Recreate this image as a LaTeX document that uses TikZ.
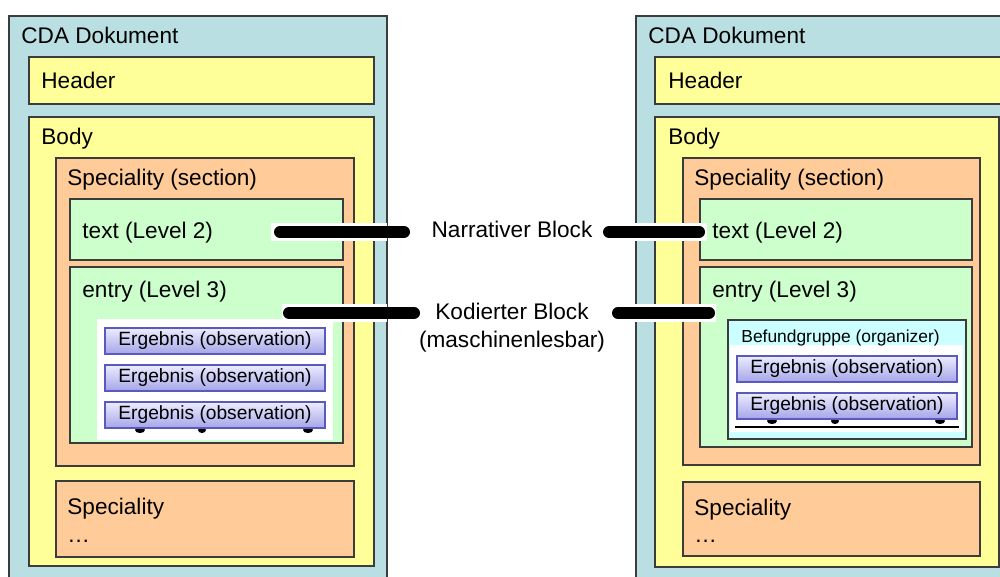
\documentclass[tikz,border=0pt]{standalone}
\usepackage{fontspec}
\setmainfont{Liberation Sans}
\definecolor{docblue}{RGB}{185,223,227}
\definecolor{hdryellow}{RGB}{255,255,153}
\definecolor{secorange}{RGB}{255,204,153}
\definecolor{entgreen}{RGB}{204,255,204}
\definecolor{orgcyan}{RGB}{204,255,255}
\definecolor{obstop}{RGB}{236,236,255}
\definecolor{obsbot}{RGB}{165,165,232}
\definecolor{obsline}{RGB}{90,90,190}
\definecolor{edge}{RGB}{60,60,60}
\begin{document}
\begin{tikzpicture}[x=0.5pt,y=-0.5pt,
  box/.style={draw=edge, line width=0.6pt},
  lbl/.style={anchor=base west, inner sep=0pt, font=\fontsize{11.3pt}{13pt}\selectfont},
  midlbl/.style={anchor=base, inner sep=0pt, font=\fontsize{11.3pt}{13pt}\selectfont},
  obs/.style={draw=obsline, line width=0.6pt, top color=obstop, bottom color=obsbot,
    minimum width=110pt, minimum height=13pt, inner sep=0pt,
    font=\fontsize{9.6pt}{11pt}\selectfont},
  blob/.style={fill=black},
  gap/.style={fill=white},
  marker/.style={line width=6pt, line cap=round, black}]
\useasboundingbox (0,0) rectangle (1000,577);
\clip (0,0) rectangle (1000,577);

% ---------- left document ----------
\fill[white] (0,0) rectangle (1000,577);
\filldraw[box, fill=docblue] (9,16) rectangle (387,600);
\filldraw[box, fill=hdryellow] (29,57) rectangle (374,104);
\filldraw[box, fill=hdryellow] (29,117) rectangle (374,566);
\filldraw[box, fill=secorange] (56,158) rectangle (354,466);
\filldraw[box, fill=entgreen] (70,199) rectangle (343,260);
\filldraw[box, fill=entgreen] (70,267) rectangle (343,443);
\fill[white] (97,319) rectangle (333,440);
\fill[blob] (140,430) ellipse (5 and 3);
\fill[blob] (202,430) ellipse (4 and 3);
\fill[blob] (308,430) ellipse (5 and 3);
\node[obs] (lo1) at (215,341) {Ergebnis (observation)};
\node[obs] (lo2) at (215,378) {Ergebnis (observation)};
\node[obs] (lo3) at (215,415) {Ergebnis (observation)};
\filldraw[box, fill=secorange] (56,481) rectangle (354,557);

\node[lbl] (ldoc) at (21,44) {CDA Dokument};
\node[lbl] (lhdr) at (41,89) {Header};
\node[lbl] (lbody) at (41,145) {Body};
\node[lbl] (lsec) at (67,186) {Speciality (section)};
\node[lbl] (ltext) at (82,238) {text (Level 2)};
\node[lbl] (lentry) at (82,297) {entry (Level 3)};
\node[lbl] (lspec) at (67,514) {Speciality};
\node[lbl] (ldots) at (67,542) {\dots};

% ---------- right document ----------
\filldraw[box, fill=docblue] (636,16) rectangle (1010,600);
\filldraw[box, fill=hdryellow] (655,57) rectangle (1010,104);
\filldraw[box, fill=hdryellow] (655,117) rectangle (999,567);
\filldraw[box, fill=secorange] (683,158) rectangle (980,465);
\filldraw[box, fill=entgreen] (700,199) rectangle (972,260);
\filldraw[box, fill=entgreen] (700,267) rectangle (972,447);
\filldraw[box, fill=orgcyan] (728,320) rectangle (966,439);
\fill[white] (730,345) rectangle (963,432);
\fill[blob] (772,421) ellipse (5 and 3);
\fill[blob] (835,421) ellipse (4 and 3);
\fill[blob] (940,421) ellipse (5 and 3);
\node[obs] (ro1) at (847,369) {Ergebnis (observation)};
\node[obs] (ro2) at (847,406) {Ergebnis (observation)};
\draw[line width=0.6pt] (735,427) -- (959,427);
\filldraw[box, fill=secorange] (683,482) rectangle (980,556);

\node[lbl] (rdoc) at (648,44) {CDA Dokument};
\node[lbl] (rhdr) at (668,89) {Header};
\node[lbl] (rbody) at (668,145) {Body};
\node[lbl] (rsec) at (694,186) {Speciality (section)};
\node[lbl] (rtext) at (712,238) {text (Level 2)};
\node[lbl] (rentry) at (712,297) {entry (Level 3)};
\node[lbl, font=\fontsize{8.7pt}{10pt}\selectfont] (rorg) at (741,342) {Befundgruppe (organizer)};
\node[lbl] (rspec) at (694,515) {Speciality};
\node[lbl] (rdots) at (694,542) {\dots};

% ---------- block labels and marker strokes ----------
\node[midlbl] (narr) at (512,237) {Narrativer Block};
\node[midlbl] (kod) at (512,319) {Kodierter Block};
\node[midlbl] (kod2) at (512,347) {(maschinenlesbar)};

\coordinate (na1) at (280,232);
\coordinate (na2) at (404,232);
\coordinate (na3) at (609,232);
\coordinate (na4) at (699,232);
\coordinate (ka1) at (289,313);
\coordinate (ka2) at (414,313);
\coordinate (ka3) at (618,313);
\coordinate (ka4) at (709,313);

\fill[gap] (271,223) rectangle (387,241);
\fill[gap] (600,223) rectangle (707,241);
\fill[gap] (282,304) rectangle (387,322);
\fill[gap] (608,304) rectangle (716,322);

\draw[marker] (na1) -- (na2);
\draw[marker] (na3) -- (na4);
\draw[marker] (ka1) -- (ka2);
\draw[marker] (ka3) -- (ka4);
\end{tikzpicture}
\end{document}
